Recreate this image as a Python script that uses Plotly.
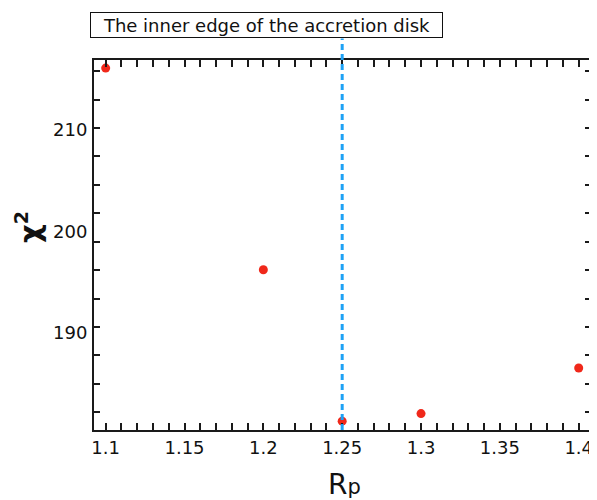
import plotly.graph_objects as go

# Data
rp_values = [1.1, 1.2, 1.25, 1.3, 1.4]
chi2_values = [216.1, 196.2, 181.25, 182.0, 186.5]
inner_edge_rp = 1.25
inner_edge_label = "The inner edge of the accretion disk"
x_tick_values = [1.1, 1.15, 1.2, 1.25, 1.3, 1.35, 1.4]
x_tick_labels = ["1.1", "1.15", "1.2", "1.25", "1.3", "1.35", "1.4"]
y_tick_labels = [190, 200, 210]

FONT = "DejaVu Sans"
AXCOL = "#1a1a1a"

x_range = [1.0926, 1.4078]
y_range = [180.38, 216.90]

fig = go.Figure()
fig.add_trace(go.Scatter(
    x=rp_values, y=chi2_values, mode="markers",
    marker=dict(color="#f0281a", size=9),
    cliponaxis=False, showlegend=False, hoverinfo="skip",
))
# empty trace that carries the overlay tick axis
fig.add_trace(go.Scatter(x=[x_range[0]], y=[y_range[0]], yaxis="y2", mode="markers",
                         marker=dict(opacity=0), showlegend=False, hoverinfo="skip"))

fig.add_shape(type="line", xref="x", yref="paper",
              x0=inner_edge_rp, x1=inner_edge_rp, y0=0, y1=1.058,
              line=dict(color="#1ea2f5", width=3, dash="6px,4px"), layer="above")

fig.add_annotation(text=inner_edge_label, xref="paper", yref="paper",
                   x=-0.008, y=1.095, xanchor="left", yanchor="middle",
                   width=349, height=22, align="center",
                   showarrow=False, font=dict(family=FONT, size=18, color="#111"),
                   bordercolor="#111", borderwidth=1, borderpad=1, bgcolor="white")

fig.add_annotation(text="χ<sup><span style='font-size:19px'>2</span></sup>",
                   xref="paper", yref="paper",
                   x=-0.132, y=0.55, xanchor="center", yanchor="middle",
                   textangle=-90, showarrow=False,
                   font=dict(family=FONT, size=29, color="#111", weight="bold"))

fig.add_annotation(text="R<span style='font-size:21px'>p</span>", xref="paper", yref="paper",
                   x=0.505, y=-0.148, xanchor="center", yanchor="middle",
                   showarrow=False, font=dict(family=FONT, size=28, color="#111"))

fig.update_layout(
    width=589, height=492,
    margin=dict(l=86, r=4, t=52, b=70),
    paper_bgcolor="white", plot_bgcolor="white",
    font=dict(family=FONT, size=18, color="#111"),
    xaxis=dict(range=x_range, showgrid=False, zeroline=False,
               showline=True, linecolor=AXCOL, linewidth=2, mirror="allticks",
               ticks="inside", ticklen=7, tickwidth=1.5, tickcolor=AXCOL,
               tickvals=x_tick_values, ticktext=x_tick_labels,
               minor=dict(ticks="inside", ticklen=3, tickwidth=1.5, tickcolor=AXCOL,
                          dtick=0.01, tick0=1.1, showgrid=False),
               tickfont=dict(size=18)),
    yaxis=dict(range=y_range, showgrid=False, zeroline=False,
               showline=True, linecolor=AXCOL, linewidth=2, mirror=True,
               ticks="", tickvals=y_tick_labels, ticklabelstandoff=1,
               tickfont=dict(size=18)),
    yaxis2=dict(range=y_range, overlaying="y", side="left", showgrid=False,
                zeroline=False, showline=False, showticklabels=False,
                ticks="inside", ticklen=6, tickwidth=1.5, tickcolor=AXCOL,
                mirror="ticks", tick0=182.12, dtick=2.807),
)

fig.write_html("out.html")
